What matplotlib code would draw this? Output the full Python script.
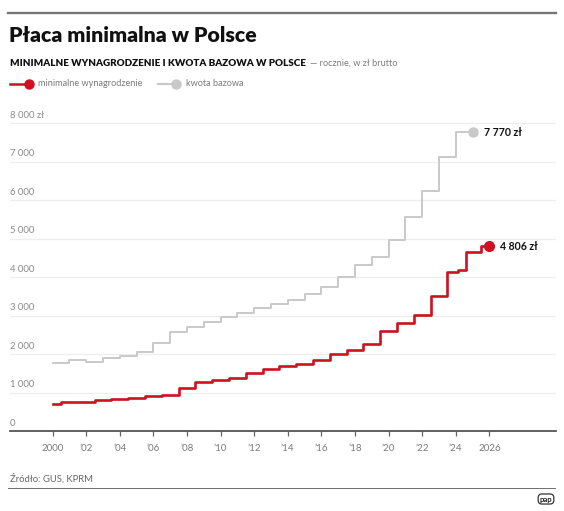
import matplotlib
matplotlib.use('Agg')
import matplotlib.pyplot as plt
import matplotlib.transforms as mtransforms
from matplotlib.lines import Line2D
import numpy as np

plt.rcParams['font.family'] = ['Lato', 'DejaVu Sans']

# ---------------- data ----------------
title = "Płaca minimalna w Polsce"
subtitle_bold = "MINIMALNE WYNAGRODZENIE I KWOTA BAZOWA W POLSCE"
subtitle_rest = "— rocznie, w zł brutto"
series_names = ["minimalne wynagrodzenie", "kwota bazowa"]
source_text = "Źródło: GUS, KPRM"

# minimum wage (value per year; mid-2024 adjustment as extra point)
min_years = [2000, 2001, 2002, 2003, 2004, 2005, 2006, 2007, 2008, 2009,
             2010, 2011, 2012, 2013, 2014, 2015, 2016, 2017, 2018, 2019,
             2020, 2021, 2022, 2023, 2024, 2024.25, 2025, 2026]
min_values = [700, 760, 760, 800, 824, 849, 899, 936, 1126, 1276,
              1317, 1386, 1500, 1600, 1680, 1750, 1850, 2000, 2100, 2250,
              2600, 2800, 3010, 3500, 4130, 4180, 4666, 4806]

# base amount (level valid from the given year)
base_years = list(range(2000, 2026))
base_values = [1763, 1847, 1805, 1898, 1963, 2050, 2277, 2580, 2715, 2838,
               2976, 3078, 3196, 3309, 3413, 3550, 3750, 4010, 4304, 4530,
               4974, 5565, 6240, 7130, 7770, 7770]

y_ticks = [0, 1000, 2000, 3000, 4000, 5000, 6000, 7000, 8000]
y_tick_labels = ["0", "1 000", "2 000", "3 000", "4 000", "5 000", "6 000", "7 000", "8 000 zł"]
x_ticks = list(range(2000, 2027, 2))
x_tick_labels = ["2000", "’02", "’04", "’06", "’08", "’10", "’12", "’14",
                 "’16", "’18", "’20", "’22", "’24", "2026"]
end_labels = ["4 806 zł", "7 770 zł"]

RED = '#cf1020'
GREY = '#c9c9c9'

W, H = 564, 511
fig = plt.figure(figsize=(W / 100, H / 100), dpi=100)
fig.patch.set_facecolor('white')

def fx(px):
    return px / W

def fy(py):
    return 1 - py / H

# ---------------- axes ----------------
ax_left, ax_right = 10, 556
ax_top, ax_bottom = 115, 431
ax = fig.add_axes([fx(ax_left), fy(ax_bottom), fx(ax_right - ax_left), (ax_bottom - ax_top) / H])
ax.set_xlim(1997.46, 2029.97)
ax.set_ylim(0, 8216)
ax.patch.set_alpha(0)

for s in ['top', 'right', 'left']:
    ax.spines[s].set_visible(False)
ax.spines['bottom'].set_color('#555555')
ax.spines['bottom'].set_linewidth(1.3)

ax.set_yticks(y_ticks)
ax.set_yticklabels([])
ax.tick_params(axis='y', length=0)
ax.yaxis.grid(True, color='#eeeeee', linewidth=0.9)
ax.set_axisbelow(True)

ax.set_xticks(x_ticks)
ax.set_xticklabels(x_tick_labels)
ax.tick_params(axis='x', direction='out', length=3.5, width=0.9, color='#666666',
               pad=6, labelsize=7, labelcolor='#7a7a7a')

blend = mtransforms.blended_transform_factory(ax.transAxes, ax.transData)
for v, lab in zip(y_ticks, y_tick_labels):
    ax.annotate(lab, xy=(0, v), xycoords=blend, xytext=(0, 2.5), textcoords='offset points',
                ha='left', va='bottom', fontsize=6.8, color='#8a8a8a')

# grey series
ax.step(base_years, base_values, where='post', color=GREY, lw=1.4, zorder=3)
ax.plot(base_years[-1], base_values[-1], 'o', color=GREY, ms=6.5, zorder=4)
ax.annotate(end_labels[1], xy=(base_years[-1], base_values[-1]), xytext=(8.5, 0),
            textcoords='offset points', ha='left', va='center', fontsize=7.6,
            fontweight='bold', color='#111111')

# red series
ax.plot(min_years, min_values, drawstyle='steps-mid', color=RED, lw=1.9, zorder=5)
ax.plot(min_years[-1], min_values[-1], 'o', color=RED, ms=7, zorder=6)
ax.annotate(end_labels[0], xy=(min_years[-1], min_values[-1]), xytext=(8, 0),
            textcoords='offset points', ha='left', va='center', fontsize=7.6,
            fontweight='bold', color='#111111')

# ---------------- header ----------------
top_ax = fig.add_axes([fx(8), fy(14), fx(548), 1 / H])
top_ax.axis('off')
top_ax.axhline(0.5, color='#777777', lw=1.7, clip_on=False)

fig.text(fx(9), fy(42), title, fontsize=15.3, fontweight='heavy', color='#111111',
         ha='left', va='baseline')
t1 = fig.text(fx(10), fy(66), subtitle_bold, fontsize=7.1, fontweight='heavy',
              color='#111111', ha='left', va='baseline')
fig.canvas.draw()
r = fig.canvas.get_renderer()
bb = t1.get_window_extent(r)
fig.text((bb.x1 + 4) / W, fy(66), subtitle_rest, fontsize=6.6, color='#7a7a7a',
         ha='left', va='baseline')

# legend
ly = fy(84)
fig.add_artist(Line2D([fx(10), fx(28)], [ly, ly], color=RED, lw=1.8, transform=fig.transFigure))
fig.add_artist(Line2D([fx(29)], [ly], marker='o', color=RED, ms=6.5, transform=fig.transFigure))
fig.text(fx(38), ly, series_names[0], fontsize=6.6, color='#7a7a7a', ha='left', va='center')
fig.add_artist(Line2D([fx(158), fx(175)], [ly, ly], color=GREY, lw=1.6, transform=fig.transFigure))
fig.add_artist(Line2D([fx(176)], [ly], marker='o', color=GREY, ms=6.5, transform=fig.transFigure))
fig.text(fx(186), ly, series_names[1], fontsize=6.6, color='#7a7a7a', ha='left', va='center')

# ---------------- footer ----------------
fig.text(fx(10), fy(479), source_text, fontsize=6.8, color='#666666', ha='left', va='center')
foot_ax = fig.add_axes([fx(8), fy(489), fx(548), 1 / H])
foot_ax.axis('off')
foot_ax.axhline(0.5, color='#444444', lw=1.8)
fig.text(fx(546), fy(499), 'pap', fontsize=5.5, fontweight='bold', color='#222222',
         ha='center', va='center',
         bbox=dict(boxstyle='round,pad=0.2,rounding_size=0.5', fc='white', ec='#333333', lw=0.9))

fig.savefig('out.png', dpi=100, facecolor='white')
